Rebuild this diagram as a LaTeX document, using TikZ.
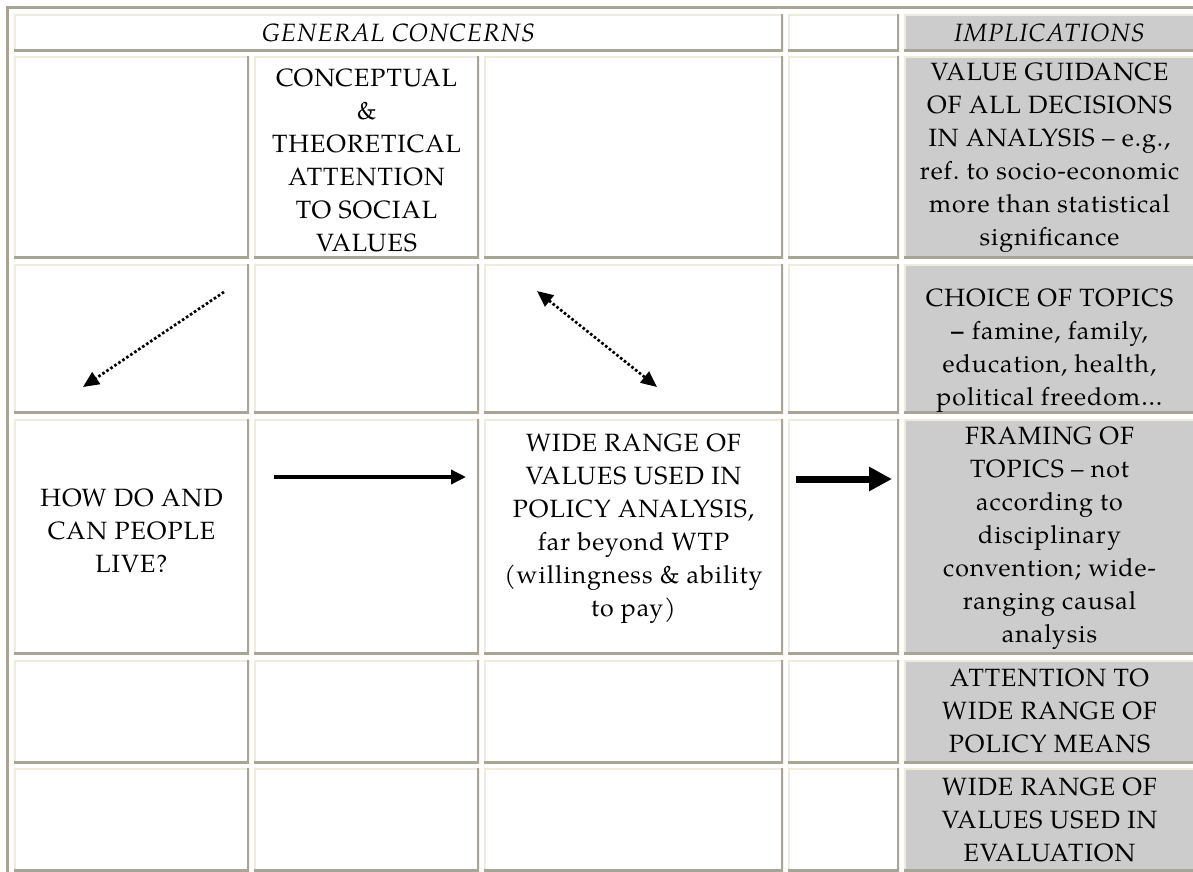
\documentclass[tikz,border=0pt]{standalone}
\usepackage{fontspec}
\setmainfont{TeX Gyre Pagella}[LetterSpace=4]
\usetikzlibrary{arrows.meta}
\definecolor{bdark}{RGB}{168,164,150}
\definecolor{blight}{RGB}{239,235,221}
\definecolor{cellgray}{RGB}{204,204,204}
\tikzset{
  cellbox/.style={draw=none, inner sep=0pt, outer sep=0pt, fill=white,
    path picture={
      \draw[blight, line width=4pt] (path picture bounding box.south west) -- (path picture bounding box.north west) -- (path picture bounding box.north east);
      \draw[bdark, line width=4pt] (path picture bounding box.north east) -- (path picture bounding box.south east) -- (path picture bounding box.south west);
    }},
  graycell/.style={cellbox, fill=cellgray},
  celltext/.style={inner sep=0pt, align=center, font=\fontsize{25}{33}\selectfont},
  dotarrow/.style={line width=2.7pt, dash pattern=on 2.6pt off 2.2pt},
  dottip/.tip={Triangle[length=16pt,width=14pt]},
  solidarrow/.style={line width=3.5pt, -{Triangle[length=15pt,width=14pt]}},
  thickarrow/.style={line width=7pt, -{Triangle[length=23pt,width=23pt]}},
  tableframe/.style={bdark, line width=2.5pt}
}
\newcommand\tabcell[6]{%
  \pgfmathsetmacro\cellCX{(#2+#4)/2}%
  \pgfmathsetmacro\cellCY{(#3+#5)/2}%
  \pgfmathsetmacro\cellW{#4-#2}%
  \pgfmathsetmacro\cellH{#5-#3}%
  \node[#6, minimum width=\cellW pt, minimum height=\cellH pt] (#1) at (\cellCX,\cellCY) {};}
\frenchspacing
\begin{document}
\begin{tikzpicture}[x=1pt,y=-1pt]
\useasboundingbox (0,0) rectangle (1193,871);
\clip (0,0) rectangle (1193,871);
\fill[white] (0,0) rectangle (1193,871);
% outer table frame
\draw[tableframe] (7.5,875) -- (7.5,7.5) -- (1197,7.5);
% header row
\tabcell{hgen}{14}{14}{783}{51}{cellbox}
\tabcell{hemp}{788}{14}{899}{51}{cellbox}
\tabcell{himp}{904}{14}{1195}{51}{graycell}
% row 1
\tabcell{ra1}{14}{56}{249}{258}{cellbox}
\tabcell{ra2}{254}{56}{479}{258}{cellbox}
\tabcell{ra3}{484}{56}{783}{258}{cellbox}
\tabcell{ra4}{788}{56}{899}{258}{cellbox}
\tabcell{ra5}{904}{56}{1195}{258}{graycell}
% row 2
\tabcell{rb1}{14}{264}{249}{413}{cellbox}
\tabcell{rb2}{254}{264}{479}{413}{cellbox}
\tabcell{rb3}{484}{264}{783}{413}{cellbox}
\tabcell{rb4}{788}{264}{899}{413}{cellbox}
\tabcell{rb5}{904}{264}{1195}{413}{graycell}
% row 3
\tabcell{rc1}{14}{419}{249}{654}{cellbox}
\tabcell{rc2}{254}{419}{479}{654}{cellbox}
\tabcell{rc3}{484}{419}{783}{654}{cellbox}
\tabcell{rc4}{788}{419}{899}{654}{cellbox}
\tabcell{rc5}{904}{419}{1195}{654}{graycell}
% row 4
\tabcell{rd1}{14}{660}{249}{763}{cellbox}
\tabcell{rd2}{254}{660}{479}{763}{cellbox}
\tabcell{rd3}{484}{660}{783}{763}{cellbox}
\tabcell{rd4}{788}{660}{899}{763}{cellbox}
\tabcell{rd5}{904}{660}{1195}{763}{graycell}
% row 5
\tabcell{re1}{14}{768}{249}{871}{cellbox}
\tabcell{re2}{254}{768}{479}{871}{cellbox}
\tabcell{re3}{484}{768}{783}{871}{cellbox}
\tabcell{re4}{788}{768}{899}{871}{cellbox}
\tabcell{re5}{904}{768}{1195}{871}{graycell}
% texts
\node[celltext] (hgent) at (hgen.center) {\itshape GENERAL CONCERNS};
\node[celltext] (himpt) at (himp.center) {\itshape IMPLICATIONS};
\node[celltext] (ra2t) at ([yshift=-3pt]ra2.center) {CONCEPTUAL\\\&\\THEORETICAL\\ATTENTION\\TO SOCIAL\\VALUES};
\node[celltext] (ra5t) at ([yshift=-1pt]ra5.center) {VALUE GUIDANCE\\OF ALL DECISIONS\\IN ANALYSIS – e.g.,\\ref. to socio-economic\\more than statistical\\significance};
\node[celltext] (rb5t) at ([yshift=-12pt]rb5.center) {CHOICE OF TOPICS\\\textbf{–} famine, family,\\education, health,\\political freedom…};
\node[celltext] (rc1t) at ([yshift=6pt]rc1.center) {HOW DO AND\\CAN PEOPLE\\LIVE?};
\node[celltext] (rc3t) at ([yshift=8pt]rc3.center) {WIDE RANGE OF\\VALUES USED IN\\POLICY ANALYSIS,\\far beyond WTP\\(willingness \& ability\\to pay)};
\node[celltext] (rc5t) at ([yshift=-2pt]rc5.center) {FRAMING OF\\TOPICS – not\\according to\\disciplinary\\convention; wide-\\ranging causal\\analysis};
\node[celltext] (rd5t) at ([yshift=1pt]rd5.center) {ATTENTION TO\\WIDE RANGE OF\\POLICY MEANS};
\node[celltext] (re5t) at (re5.center) {WIDE RANGE OF\\VALUES USED IN\\EVALUATION};
% arrows
\coordinate (d1s) at (224,292);
\coordinate (d1e) at (83,387);
\coordinate (d2s) at (537,291);
\coordinate (d2e) at (657,387);
\coordinate (s1s) at (274,477);
\coordinate (s1e) at (466,477);
\coordinate (t1s) at (796,479);
\coordinate (t1e) at (892,479);
\draw[dotarrow, -{dottip}] (d1s) -- (d1e);
\draw[dotarrow, {dottip}-{dottip}] (d2s) -- (d2e);
\draw[solidarrow] (s1s) -- (s1e);
\draw[thickarrow] (t1s) -- (t1e);
\end{tikzpicture}
\end{document}
